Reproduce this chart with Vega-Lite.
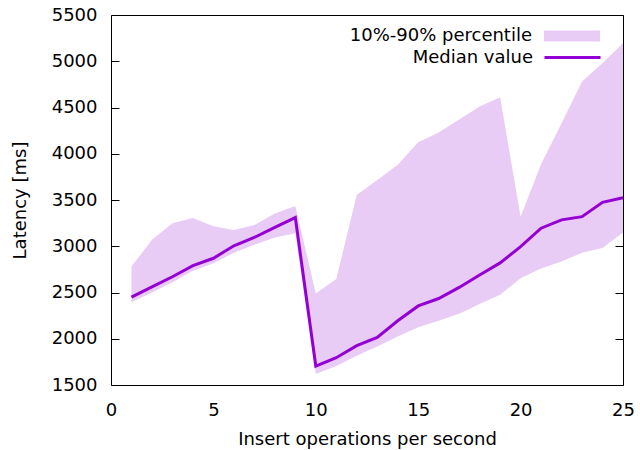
{
  "$schema": "https://vega.github.io/schema/vega-lite/v6.json",
  "width": 512,
  "height": 370,
  "autosize": {"type": "none"},
  "padding": {"left": 111, "top": 15, "right": 17, "bottom": 65},
  "config": {
    "font": "DejaVu Sans",
    "view": {"stroke": "black", "strokeWidth": 1},
    "axis": {
      "labelFont": "DejaVu Sans",
      "titleFont": "DejaVu Sans",
      "labelFontSize": 18,
      "titleFontSize": 18,
      "titleFontWeight": "normal",
      "labelColor": "black",
      "titleColor": "black",
      "domain": false,
      "grid": false
    },
    "legend": {
      "labelFont": "DejaVu Sans",
      "labelFontSize": 18,
      "labelColor": "black"
    }
  },
  "data": {
    "values": [
      {"x": 1, "lo": 2395, "med": 2450, "hi": 2780},
      {"x": 2, "lo": 2500, "med": 2560, "hi": 3070},
      {"x": 3, "lo": 2610, "med": 2670, "hi": 3250},
      {"x": 4, "lo": 2735, "med": 2790, "hi": 3305},
      {"x": 5, "lo": 2815, "med": 2870, "hi": 3215},
      {"x": 6, "lo": 2930, "med": 3005, "hi": 3175},
      {"x": 7, "lo": 3015, "med": 3095, "hi": 3230},
      {"x": 8, "lo": 3095, "med": 3205, "hi": 3355},
      {"x": 9, "lo": 3140, "med": 3310, "hi": 3435},
      {"x": 10, "lo": 1620, "med": 1705, "hi": 2490},
      {"x": 11, "lo": 1705, "med": 1795, "hi": 2645},
      {"x": 12, "lo": 1815, "med": 1925, "hi": 3555},
      {"x": 13, "lo": 1915, "med": 2015, "hi": 3715},
      {"x": 14, "lo": 2025, "med": 2195, "hi": 3880},
      {"x": 15, "lo": 2125, "med": 2355, "hi": 4125},
      {"x": 16, "lo": 2195, "med": 2435, "hi": 4230},
      {"x": 17, "lo": 2270, "med": 2555, "hi": 4370},
      {"x": 18, "lo": 2375, "med": 2690, "hi": 4510},
      {"x": 19, "lo": 2475, "med": 2820, "hi": 4610},
      {"x": 20, "lo": 2655, "med": 2995, "hi": 3320},
      {"x": 21, "lo": 2760, "med": 3195, "hi": 3890},
      {"x": 22, "lo": 2835, "med": 3285, "hi": 4330},
      {"x": 23, "lo": 2930, "med": 3320, "hi": 4780},
      {"x": 24, "lo": 2980, "med": 3475, "hi": 4980},
      {"x": 25, "lo": 3150, "med": 3525, "hi": 5195}
    ]
  },
  "layer": [
    {
      "mark": {"type": "area", "opacity": 1},
      "encoding": {
        "x": {
          "field": "x",
          "type": "quantitative",
          "scale": {"domain": [0, 25], "nice": false},
          "axis": {
            "title": "Insert operations per second",
            "values": [0, 5, 10, 15, 20, 25],
            "ticks": false,
            "labelPadding": 16,
            "titlePadding": 11,
            "labelFlush": false
          }
        },
        "y": {
          "field": "lo",
          "type": "quantitative",
          "scale": {"domain": [1500, 5500], "nice": false, "zero": false},
          "axis": {
            "title": "Latency [ms]",
            "orient": "left",
            "format": "d",
            "values": [1500, 2000, 2500, 3000, 3500, 4000, 4500, 5000, 5500],
            "offset": -8,
            "ticks": true,
            "tickSize": 8,
            "tickWidth": 1,
            "tickOpacity": 1,
            "tickColor": "black",
            "labelPadding": 14,
            "titlePadding": 22,
            "labelFlush": false
          }
        },
        "y2": {"field": "hi"},
        "color": {
          "datum": "10%-90% percentile",
          "type": "nominal",
          "scale": {"domain": ["10%-90% percentile"], "range": ["#e9ccf6"]},
          "legend": {
            "title": null,
            "orient": "none",
            "legendX": 452,
            "legendY": 12,
            "padding": 0,
            "symbolType": "M-3.5,-0.6875L3.5,-0.6875L3.5,0.6875L-3.5,0.6875Z",
            "symbolSize": 256,
            "symbolStrokeWidth": 0,
            "symbolOpacity": 1,
            "labelAlign": "right",
            "labelOffset": -49,
            "labelLimit": 0
          }
        }
      }
    },
    {
      "mark": {"type": "line", "strokeWidth": 3},
      "encoding": {
        "x": {"field": "x", "type": "quantitative"},
        "y": {
          "field": "med",
          "type": "quantitative",
          "scale": {"domain": [1500, 5500], "nice": false, "zero": false},
          "axis": {
            "orient": "right",
            "title": null,
            "labels": false,
            "values": [1500, 2000, 2500, 3000, 3500, 4000, 4500, 5000, 5500],
            "offset": -8,
            "ticks": true,
            "tickSize": 8,
            "tickWidth": 1,
            "tickOpacity": 1,
            "tickColor": "black"
          }
        },
        "stroke": {
          "datum": "Median value",
          "type": "nominal",
          "scale": {"domain": ["Median value"], "range": ["#9400d3"]},
          "legend": {
            "title": null,
            "orient": "none",
            "legendX": 432,
            "legendY": 13,
            "padding": 0,
            "symbolType": "stroke",
            "symbolSize": 3136,
            "symbolStrokeWidth": 3,
            "symbolOpacity": 1,
            "labelAlign": "right",
            "labelOffset": -69,
            "labelLimit": 0
          }
        }
      }
    }
  ],
  "resolve": {"axis": {"y": "independent"}}
}
